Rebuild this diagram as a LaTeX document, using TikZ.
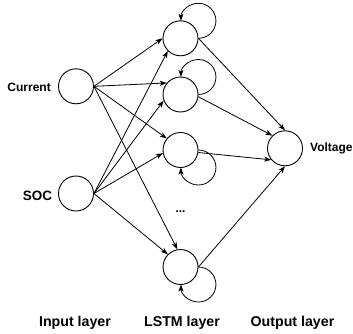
\documentclass[tikz,border=0pt]{standalone}
\usepackage{fontspec}
\setmainfont{Liberation Sans}
\usetikzlibrary{arrows.meta}
\begin{document}
\begin{tikzpicture}[x=1pt,y=1pt,
  neuron/.style={circle,draw,line width=0.9pt,minimum size=35pt,inner sep=0pt},
  arr/.style={line width=0.8pt,-{Stealth[length=7pt,width=5pt,inset=1.8pt]}},
  lblA/.style={inner sep=0pt,font=\fontsize{12}{14}\selectfont\bfseries},
  lblB/.style={inner sep=0pt,font=\fontsize{13.5}{16}\selectfont\bfseries},
  lblC/.style={inner sep=0pt,font=\fontsize{14.2}{17}\selectfont\bfseries}]
\useasboundingbox (0,0) rectangle (353,333);
% nodes
\node[neuron] (C) at (76,246.7) {};
\node[neuron] (S) at (76,139.5) {};
\node[neuron] (L1) at (180.5,294.7) {};
\node[neuron] (L2) at (180.5,238.5) {};
\node[neuron] (L3) at (180.5,183) {};
\node[neuron] (L4) at (180.5,66) {};
\node[neuron] (O) at (285,184.7) {};
\node[lblA] (dots) at (180.5,121) {...};
% labels
\node[lblA,anchor=base east] (tC) at (51,242) {Current};
\node[lblB,anchor=base east] (tS) at (52.3,133) {SOC};
\node[lblA,anchor=base west] (tO) at (310,182) {Voltage};
\node[lblC,anchor=base] (t1) at (75,6.3) {Input layer};
\node[lblC,anchor=base] (t2) at (182,6.3) {LSTM layer};
\node[lblC,anchor=base] (t3) at (292.5,6.3) {Output layer};
% input -> LSTM
\draw[arr] (C.east) -- (L1.180);
\draw[arr] (C.east) -- (L2.140);
\draw[arr] (C.east) -- (L3.140);
\draw[arr] (C.east) -- (L4.100);
\draw[arr] (S.east) -- (L1.225);
\draw[arr] (S.east) -- (L2.200);
\draw[arr] (S.east) -- (L3.190);
\draw[arr] (S.east) -- (L4.135);
% LSTM -> output
\draw[arr] (L1.east) -- (O.90);
\draw[arr] (L2.-7) -- (O.135);
\draw[arr] (L3.-8) -- (O.220);
\draw[arr] (L4.east) -- (O.270);
% self loops
\draw[arr] (L1.east) arc[start angle=-90,end angle=180,radius=17.5pt];
\draw[arr] (L2.east) arc[start angle=-90,end angle=180,radius=17.5pt];
\draw[arr] (L3.east) arc[start angle=90,end angle=-180,radius=17.5pt];
\draw[arr] (L4.east) arc[start angle=90,end angle=-180,radius=17.5pt];
\end{tikzpicture}
\end{document}
